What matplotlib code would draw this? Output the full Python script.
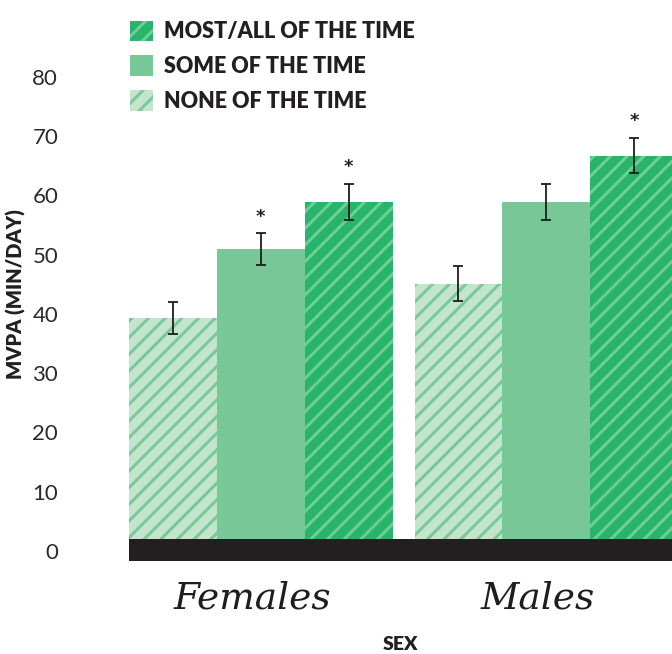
import numpy as np
import matplotlib
matplotlib.use('Agg')
import matplotlib.pyplot as plt

# MVPA minutes per day by sex and time category
groups = ['Females', 'Males']
series = ['NONE OF THE TIME', 'SOME OF THE TIME', 'MOST/ALL OF THE TIME']
none_vals = [39.3, 45.1]
some_vals = [50.9, 58.9]
most_vals = [58.9, 66.7]
none_err = [2.7, 3.0]
some_err = [2.7, 3.0]
most_err = [3.0, 3.0]
# which bars get a significance star: (group index, series index)
starred = [(0, 1), (0, 2), (1, 2)]

plt.rcParams['hatch.linewidth'] = 2.2

fig = plt.figure(figsize=(6.72, 6.54), dpi=100)
ax = fig.add_axes([129 / 672, 0.1427, 1 - 129 / 672, 0.785])

group_x = np.array([1.0, 4.25])
width = 1.0
styles = [
    dict(color='#c4e5cd', edgecolor='#7bc996', hatch='//'),
    dict(color='#78c797', edgecolor='#78c797', hatch=None),
    dict(color='#29b46b', edgecolor='#6ccf93', hatch='//'),
]
values = [none_vals, some_vals, most_vals]
errors = [none_err, some_err, most_err]

handles = []
for i, (vals, errs, st) in enumerate(zip(values, errors, styles)):
    xs = group_x + (i - 1) * width
    b = ax.bar(xs, vals, width=width, color=st['color'], edgecolor=st['edgecolor'],
               hatch=st['hatch'], linewidth=0, zorder=2)
    ax.errorbar(xs, vals, yerr=errs, fmt='none', ecolor='#1e1e1e', elinewidth=1.3,
                capsize=3.5, capthick=1.3, zorder=4)
    handles.append(b)

for g, s in starred:
    x = group_x[g] + (s - 1) * width
    top = values[s][g] + errors[s][g]
    ax.text(x, top + 1.3, '*', ha='center', va='bottom', fontsize=13,
            fontweight='bold', color='#222222')

# thick baseline band
ax.axhspan(-1.64, 2.0, color='#231f20', zorder=5, linewidth=0)

ax.set_xlim(-0.5, 5.68)
ax.set_ylim(-1.64, 85)
ax.set_yticks(range(0, 81, 10))
ax.tick_params(axis='y', length=0, pad=51, labelsize=16, labelcolor='#2b2b2b')
for lab in ax.get_yticklabels():
    lab.set_fontfamily('Lato')
    lab.set_fontweight('normal')
ax.set_xticks(group_x - 0.1)
ax.set_xticklabels(groups, fontsize=27, style='italic', family='DejaVu Serif',
                   color='#1e1e1e')
ax.tick_params(axis='x', length=0, pad=14)
for sp in ax.spines.values():
    sp.set_visible(False)

ax.set_ylabel('MVPA (MIN/DAY)', fontsize=14.5, fontweight='heavy', family='Lato',
              color='#231f20')
ax.yaxis.set_label_coords(-0.19, 0.52)
ax.set_xlabel('SEX', fontsize=14, fontweight='heavy', family='Lato',
              color='#231f20', labelpad=14)

leg = fig.legend(handles[::-1], series[::-1], loc='upper left',
                 bbox_to_anchor=(119 / 672, 1 - 10 / 654), frameon=False,
                 handlelength=1.1, handleheight=1.1, labelspacing=0.6,
                 handletextpad=0.5, borderpad=0,
                 prop={'family': 'Lato', 'weight': 'heavy', 'size': 15.5})
for t in leg.get_texts():
    t.set_color('#231f20')

fig.savefig('out.png', dpi=100)
